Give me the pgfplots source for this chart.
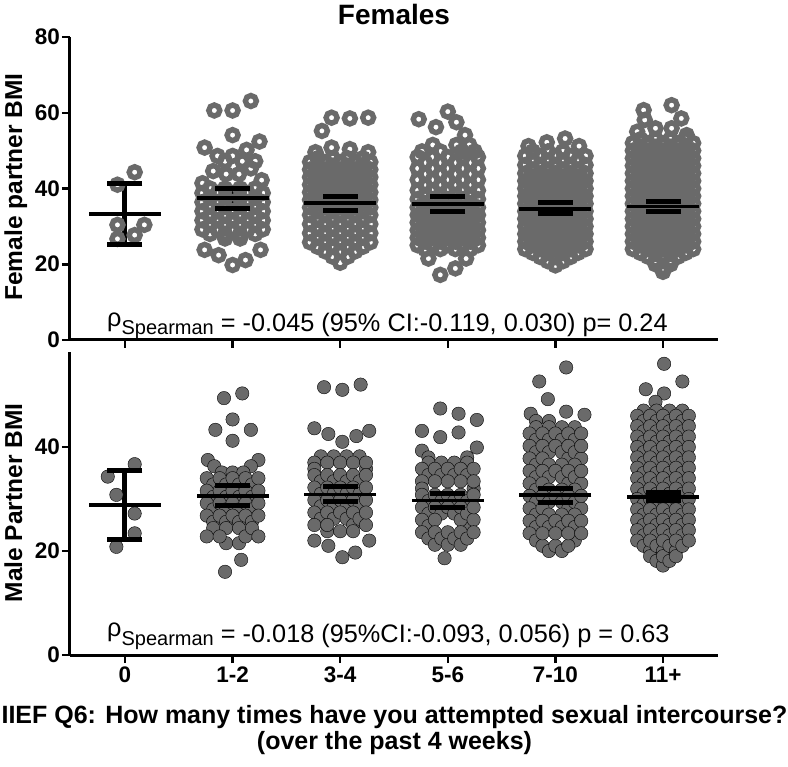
\documentclass[border=0pt]{standalone}
\usepackage{pgfplots}
\pgfplotsset{compat=1.18}
\usepackage{pgfplotstable}
\usepackage{fontspec}
\setmainfont{Liberation Sans}
\setsansfont{Liberation Sans}
\definecolor{dotgray}{RGB}{106,106,106}

% Female partner BMI (rings): y, then up to five beeswarm x positions per row
\pgfplotstableread{
y a b c d e
44.3 0.09 nan nan nan nan
41.0 -0.07 nan nan nan nan
30.4 -0.07 0.18 nan nan nan
27.7 0.09 nan nan nan nan
26.7 -0.07 nan nan nan nan
63.1 1.17 nan nan nan nan
60.6 0.83 1.00 nan nan nan
54.1 1.00 nan nan nan nan
52.4 1.25 nan nan nan nan
50.8 0.74 nan nan nan nan
50.2 1.13 nan nan nan nan
48.6 0.86 1.00 nan nan nan
47.2 0.93 1.09 1.21 nan nan
45.3 1.17 nan nan nan nan
44.6 0.82 nan nan nan nan
43.8 0.94 1.06 nan nan nan
42.2 1.27 nan nan nan nan
41.4 0.72 nan nan nan nan
40.0 0.79 0.93 1.07 1.21 nan
38.8 0.72 0.86 1.00 1.14 1.28
37.6 0.79 0.93 1.07 1.21 nan
36.4 0.72 0.86 1.00 1.14 1.28
35.2 0.79 0.93 1.07 1.21 nan
34.0 0.72 0.86 1.00 1.14 1.28
32.8 0.79 0.93 1.07 1.21 nan
31.6 0.72 0.86 1.00 1.14 1.28
30.4 0.79 0.93 1.07 1.21 nan
29.2 0.72 0.86 1.00 1.14 1.28
28.0 0.79 0.93 1.07 1.21 nan
26.8 0.93 1.07 nan nan nan
23.8 0.74 1.26 nan nan nan
22.4 0.87 nan nan nan nan
21.1 1.12 nan nan nan nan
19.8 1.00 nan nan nan nan
58.7 1.92 2.26 nan nan nan
58.5 2.09 nan nan nan nan
55.2 1.83 nan nan nan nan
50.8 1.92 nan nan nan nan
50.4 2.09 nan nan nan nan
49.6 1.77 2.26 nan nan nan
48.0 1.79 1.93 2.07 2.21 nan
47.0 1.72 1.86 2.00 2.14 2.28
46.0 1.79 1.93 2.07 2.21 nan
45.0 1.72 1.86 2.00 2.14 2.28
44.0 1.79 1.93 2.07 2.21 nan
43.0 1.72 1.86 2.00 2.14 2.28
42.0 1.79 1.93 2.07 2.21 nan
41.0 1.72 1.86 2.00 2.14 2.28
40.0 1.79 1.93 2.07 2.21 nan
39.0 1.72 1.86 2.00 2.14 2.28
38.0 1.79 1.93 2.07 2.21 nan
37.0 1.72 1.86 2.00 2.14 2.28
36.0 1.79 1.93 2.07 2.21 nan
35.0 1.72 1.86 2.00 2.14 2.28
34.0 1.79 1.93 2.07 2.21 nan
33.0 1.72 1.86 2.00 2.14 2.28
31.8 1.79 1.93 2.07 2.21 nan
30.6 1.72 1.86 2.00 2.14 2.28
29.4 1.79 1.93 2.07 2.21 nan
28.2 1.72 1.86 2.00 2.14 2.28
27.0 1.79 1.93 2.07 2.21 nan
25.8 1.72 1.86 2.00 2.14 2.28
24.6 1.79 1.93 2.07 2.21 nan
23.4 1.86 2.00 2.14 nan nan
22.0 1.93 2.07 nan nan nan
20.4 2.00 nan nan nan nan
60.3 3.00 nan nan nan nan
58.3 2.73 nan nan nan nan
57.5 3.08 nan nan nan nan
56.2 2.89 nan nan nan nan
54.1 3.16 nan nan nan nan
51.5 2.86 3.08 3.20 nan nan
49.8 2.76 2.93 3.13 3.25 nan
48.3 2.72 2.86 3.00 3.14 3.28
46.8 2.79 2.93 3.07 3.21 nan
45.3 2.72 2.86 3.00 3.14 3.28
43.8 2.79 2.93 3.07 3.21 nan
42.3 2.72 2.86 3.00 3.14 3.28
40.8 2.79 2.93 3.07 3.21 nan
39.5 2.72 2.86 3.00 3.14 3.28
38.3 2.79 2.93 3.07 3.21 nan
37.2 2.72 2.86 3.00 3.14 3.28
36.1 2.79 2.93 3.07 3.21 nan
35.0 2.72 2.86 3.00 3.14 3.28
34.0 2.79 2.93 3.07 3.21 nan
33.0 2.72 2.86 3.00 3.14 3.28
32.0 2.79 2.93 3.07 3.21 nan
31.0 2.72 2.86 3.00 3.14 3.28
30.0 2.79 2.93 3.07 3.21 nan
29.0 2.72 2.86 3.00 3.14 3.28
28.0 2.79 2.93 3.07 3.21 nan
27.0 2.72 2.86 3.00 3.14 3.28
26.0 2.79 2.93 3.07 3.21 nan
25.0 2.72 2.86 3.00 3.14 3.28
24.0 2.79 2.93 3.07 3.21 nan
21.5 2.82 3.17 nan nan nan
18.9 3.07 nan nan nan nan
17.2 2.93 nan nan nan nan
53.2 4.09 nan nan nan nan
52.2 3.92 nan nan nan nan
51.2 3.75 4.22 nan nan nan
49.8 3.79 3.93 4.07 nan nan
48.6 3.72 3.86 4.00 4.14 4.28
47.4 3.79 3.93 4.07 4.21 nan
46.2 3.72 3.86 4.00 4.14 4.28
45.0 3.79 3.93 4.07 4.21 nan
44.0 3.72 3.86 4.00 4.14 4.28
43.0 3.79 3.93 4.07 4.21 nan
42.0 3.72 3.86 4.00 4.14 4.28
41.0 3.79 3.93 4.07 4.21 nan
40.0 3.72 3.86 4.00 4.14 4.28
39.0 3.79 3.93 4.07 4.21 nan
38.0 3.72 3.86 4.00 4.14 4.28
37.0 3.79 3.93 4.07 4.21 nan
36.0 3.72 3.86 4.00 4.14 4.28
35.0 3.79 3.93 4.07 4.21 nan
34.0 3.72 3.86 4.00 4.14 4.28
33.0 3.79 3.93 4.07 4.21 nan
32.0 3.72 3.86 4.00 4.14 4.28
31.0 3.79 3.93 4.07 4.21 nan
30.0 3.72 3.86 4.00 4.14 4.28
29.0 3.79 3.93 4.07 4.21 nan
28.0 3.72 3.86 4.00 4.14 4.28
27.0 3.79 3.93 4.07 4.21 nan
26.0 3.72 3.86 4.00 4.14 4.28
25.0 3.79 3.93 4.07 4.21 nan
24.0 3.72 3.86 4.00 4.14 4.28
23.0 3.79 3.93 4.07 4.21 nan
21.9 3.86 4.00 4.14 nan nan
20.8 3.93 4.07 nan nan nan
19.7 4.00 nan nan nan nan
62.0 5.08 nan nan nan nan
60.7 4.82 nan nan nan nan
58.5 5.17 nan nan nan nan
58.1 4.83 nan nan nan nan
55.9 4.93 5.08 nan nan nan
55.0 4.76 nan nan nan nan
54.1 5.22 nan nan nan nan
53.0 4.79 4.93 5.07 5.21 nan
52.0 4.72 4.86 5.00 5.14 5.28
51.0 4.79 4.93 5.07 5.21 nan
50.0 4.72 4.86 5.00 5.14 5.28
49.0 4.79 4.93 5.07 5.21 nan
48.0 4.72 4.86 5.00 5.14 5.28
47.0 4.79 4.93 5.07 5.21 nan
46.0 4.72 4.86 5.00 5.14 5.28
45.0 4.79 4.93 5.07 5.21 nan
44.0 4.72 4.86 5.00 5.14 5.28
43.0 4.79 4.93 5.07 5.21 nan
42.0 4.72 4.86 5.00 5.14 5.28
41.0 4.79 4.93 5.07 5.21 nan
40.0 4.72 4.86 5.00 5.14 5.28
39.0 4.79 4.93 5.07 5.21 nan
38.0 4.72 4.86 5.00 5.14 5.28
37.0 4.79 4.93 5.07 5.21 nan
36.0 4.72 4.86 5.00 5.14 5.28
35.0 4.79 4.93 5.07 5.21 nan
34.0 4.72 4.86 5.00 5.14 5.28
33.0 4.79 4.93 5.07 5.21 nan
32.0 4.72 4.86 5.00 5.14 5.28
31.0 4.79 4.93 5.07 5.21 nan
30.0 4.72 4.86 5.00 5.14 5.28
29.0 4.79 4.93 5.07 5.21 nan
28.0 4.72 4.86 5.00 5.14 5.28
27.0 4.79 4.93 5.07 5.21 nan
26.0 4.72 4.86 5.00 5.14 5.28
25.0 4.79 4.93 5.07 5.21 nan
24.0 4.72 4.86 5.00 5.14 5.28
23.0 4.79 4.93 5.07 5.21 nan
22.0 4.86 5.00 5.14 nan nan
21.0 4.93 5.07 nan nan nan
20.0 4.93 5.07 nan nan nan
19.0 5.00 nan nan nan nan
18.0 5.00 nan nan nan nan
}\topdata

% Male partner BMI (filled dots)
\pgfplotstableread{
y a b c d e
36.7 0.09 nan nan nan nan
34.3 -0.16 nan nan nan nan
30.8 -0.08 nan nan nan nan
27.2 0.09 nan nan nan nan
23.4 0.09 nan nan nan nan
20.8 -0.08 nan nan nan nan
50.3 1.09 nan nan nan nan
49.4 0.92 nan nan nan nan
45.3 1.00 nan nan nan nan
43.3 0.84 1.17 nan nan nan
41.2 1.00 nan nan nan nan
37.5 0.77 1.24 nan nan nan
36.3 0.83 1.17 nan nan nan
35.1 0.90 1.00 1.10 nan nan
34.0 0.76 0.88 1.00 1.12 1.24
32.8 0.82 0.94 1.06 1.18 nan
31.6 0.76 0.88 1.00 1.12 1.24
30.4 0.82 0.94 1.06 1.18 nan
29.2 0.76 0.88 1.00 1.12 1.24
28.0 0.82 0.94 1.06 1.18 nan
26.8 0.76 0.88 1.00 1.12 1.24
25.6 0.82 0.94 1.06 1.18 nan
24.4 0.82 0.94 1.06 1.18 nan
22.8 0.76 0.88 1.12 1.24 nan
21.5 0.94 1.06 nan nan nan
18.3 1.08 nan nan nan nan
16.0 0.93 nan nan nan nan
52.0 2.19 nan nan nan nan
51.5 1.85 nan nan nan nan
51.0 2.02 nan nan nan nan
43.6 1.76 nan nan nan nan
43.1 2.27 nan nan nan nan
42.5 1.89 nan nan nan nan
42.1 2.15 nan nan nan nan
41.0 2.02 nan nan nan nan
38.2 1.82 1.94 2.06 2.18 nan
37.0 1.76 1.88 2.00 2.12 2.24
35.8 1.76 2.24 nan nan nan
34.6 1.76 1.88 2.00 2.12 2.24
33.4 1.82 1.94 2.06 2.18 nan
32.2 1.76 1.88 2.00 2.12 2.24
31.0 1.82 1.94 2.06 2.18 nan
29.8 1.76 1.88 2.00 2.12 2.24
28.6 1.82 1.94 2.06 2.18 nan
27.4 1.76 1.88 2.00 2.12 2.24
26.2 1.82 1.94 2.06 2.18 nan
25.0 1.76 1.88 2.12 2.24 nan
23.8 1.88 2.00 2.12 nan nan
22.0 1.76 2.27 nan nan nan
21.0 1.89 nan nan nan nan
19.7 2.14 nan nan nan nan
18.8 2.02 nan nan nan nan
47.4 2.93 nan nan nan nan
46.4 3.10 nan nan nan nan
45.2 3.27 nan nan nan nan
43.1 2.76 nan nan nan nan
42.8 3.10 nan nan nan nan
41.9 2.93 nan nan nan nan
39.9 3.27 nan nan nan nan
39.3 2.76 nan nan nan nan
38.0 2.82 3.18 nan nan nan
37.0 2.82 2.94 3.06 3.18 nan
35.8 2.76 2.88 3.00 3.12 3.24
34.6 2.82 2.94 3.06 3.18 nan
33.4 2.76 2.88 3.00 3.12 3.24
32.0 2.76 3.24 nan nan nan
30.8 2.76 2.88 3.00 3.12 3.24
29.6 2.82 2.94 3.06 3.18 nan
28.4 2.76 2.88 3.00 3.12 3.24
27.2 2.82 2.94 3.06 3.18 nan
26.0 2.76 2.88 3.12 3.24 nan
24.8 2.82 3.18 nan nan nan
23.6 2.76 2.88 3.00 3.12 3.24
22.4 2.82 2.94 3.06 3.18 nan
21.2 2.88 3.00 3.12 nan nan
18.6 2.97 nan nan nan nan
55.3 4.10 nan nan nan nan
52.6 3.85 nan nan nan nan
49.2 3.93 nan nan nan nan
46.8 4.10 nan nan nan nan
46.4 3.77 nan nan nan nan
46.2 4.27 nan nan nan nan
45.0 3.82 3.94 nan nan nan
43.8 3.82 3.94 4.06 4.18 nan
42.6 3.76 3.88 4.00 4.12 4.24
41.4 3.82 3.94 4.06 4.18 nan
40.2 3.76 3.88 4.00 4.12 4.24
39.0 3.82 3.94 4.06 4.18 nan
37.8 3.76 3.88 4.12 4.24 nan
36.6 3.82 3.94 4.06 4.18 nan
35.4 3.76 3.88 4.00 4.12 4.24
34.2 3.82 3.94 4.06 4.18 nan
33.0 3.76 3.88 4.12 4.24 nan
31.8 3.82 3.94 4.06 4.18 nan
30.6 3.76 3.88 4.00 4.12 4.24
29.4 3.82 3.94 4.06 4.18 nan
28.2 3.76 3.88 4.12 4.24 nan
27.0 3.82 3.94 4.06 4.18 nan
25.8 3.76 3.88 4.00 4.12 4.24
24.6 3.82 3.94 4.06 4.18 nan
23.4 3.76 3.88 4.00 4.12 4.24
22.0 3.82 4.18 nan nan nan
21.0 3.88 4.00 4.12 nan nan
20.0 3.94 4.06 nan nan nan
56.0 5.01 nan nan nan nan
52.6 5.18 nan nan nan nan
51.1 4.84 nan nan nan nan
50.3 5.01 nan nan nan nan
48.7 4.93 nan nan nan nan
47.0 4.82 4.94 5.06 5.18 nan
46.0 4.76 4.88 5.00 5.12 5.24
45.0 4.82 4.94 5.06 5.18 nan
44.0 4.76 4.88 5.00 5.12 5.24
43.0 4.82 4.94 5.06 5.18 nan
42.0 4.76 4.88 5.00 5.12 5.24
41.0 4.82 4.94 5.06 5.18 nan
40.0 4.76 4.88 5.00 5.12 5.24
39.0 4.82 4.94 5.06 5.18 nan
38.0 4.76 4.88 5.00 5.12 5.24
37.0 4.82 4.94 5.06 5.18 nan
36.0 4.76 4.88 5.00 5.12 5.24
35.0 4.82 4.94 5.06 5.18 nan
34.0 4.76 4.88 5.00 5.12 5.24
33.0 4.82 4.94 5.06 5.18 nan
32.0 4.76 4.88 5.00 5.12 5.24
31.0 4.82 4.94 5.06 5.18 nan
30.0 4.76 4.88 5.00 5.12 5.24
29.0 4.82 4.94 5.06 5.18 nan
28.0 4.76 4.88 5.00 5.12 5.24
27.0 4.82 4.94 5.06 5.18 nan
26.0 4.76 4.88 5.00 5.12 5.24
25.0 4.82 4.94 5.06 5.18 nan
24.0 4.76 4.88 5.00 5.12 5.24
23.0 4.82 4.94 5.06 5.18 nan
22.0 4.76 4.88 5.00 5.12 5.24
21.0 4.82 4.94 5.06 5.18 nan
20.0 4.88 5.00 5.12 nan nan
19.0 4.88 5.00 5.12 nan nan
18.1 4.94 5.06 nan nan nan
17.2 5.00 nan nan nan nan
}\botdata

\pgfplotsset{
  ring/.style={only marks, mark=o, mark size=5.5pt, mark options={draw=dotgray, line width=5.4pt}},
  dot/.style={only marks, mark=*, mark size=6.7pt, mark options={fill=dotgray, draw=none}},
  panel/.style={
    scale only axis, width=648pt, height=303pt,
    xmin=-0.511, xmax=5.511, ymin=0,
    axis lines*=left,
    axis line style={line width=3pt, black},
    xtick={0,1,2,3,4,5},
    tick align=outside, major tick length=8pt,
    tick style={line width=2.5pt, black},
    yticklabel style={font=\fontsize{22.5}{22.5}\selectfont\bfseries, inner sep=2pt},
    xticklabel style={font=\fontsize{22.5}{22.5}\selectfont\bfseries},
    /pgf/number format/assume math mode=true,
    clip=false,
  },
  cap/.style={only marks, mark=-, mark size=17.5pt, mark options={line width=5pt, black}},
  mean/.style={only marks, mark=-, mark size=36pt, mark options={line width=3.5pt, black}},
  vbar/.style={black, line width=5pt, mark=none},
}

\begin{document}
\begin{tikzpicture}[x=1pt,y=1pt]
\path[use as bounding box] (0,0) rectangle (788,-767);

\begin{axis}[panel, at={(70pt,-340pt)}, anchor=south west,
  ymax=80, ytick={0,20,40,60,80}, xticklabels={}]
  \foreach \c in {a,b,c,d,e}{
    \addplot[ring] table[x=\c, y=y]{\topdata};
  }
  \addplot[vbar] coordinates {(0,25.3) (0,41.4)};
  \addplot[vbar] coordinates {(1,34.8) (1,39.9)};
  \addplot[vbar] coordinates {(2,34.1) (2,38.0)};
  \addplot[vbar] coordinates {(3,33.9) (3,37.8)};
  \addplot[vbar] coordinates {(4,33.5) (4,36.2)};
  \addplot[vbar] coordinates {(5,33.9) (5,36.5)};
  \addplot[cap] coordinates {(0,41.4) (0,25.3) (1,39.9) (1,34.8) (2,38.0) (2,34.1) (3,37.8) (3,33.9) (4,36.2) (4,33.5) (5,36.5) (5,33.9)};
  \addplot[mean] coordinates {(0,33.3) (1,37.5) (2,36.2) (3,35.9) (4,34.6) (5,35.2)};
\end{axis}

\begin{axis}[panel, at={(70pt,-655pt)}, anchor=south west,
  ymax=58.27, ytick={0,20,40},
  xticklabels={0,1-2,3-4,5-6,7-10,11+}]
  \foreach \c in {a,b,c,d,e}{
    \addplot[dot] table[x=\c, y=y]{\botdata};
  }
  \addplot[vbar] coordinates {(0,22.3) (0,35.4)};
  \addplot[vbar] coordinates {(1,28.7) (1,32.6)};
  \addplot[vbar] coordinates {(2,29.5) (2,32.4)};
  \addplot[vbar] coordinates {(3,28.3) (3,31.1)};
  \addplot[vbar] coordinates {(4,29.4) (4,32.1)};
  \addplot[vbar] coordinates {(5,29.7) (5,31.2)};
  \addplot[cap] coordinates {(0,35.4) (0,22.3) (1,32.6) (1,28.7) (2,32.4) (2,29.5) (3,31.1) (3,28.3) (4,32.1) (4,29.4) (5,31.2) (5,29.7)};
  \addplot[mean] coordinates {(0,28.8) (1,30.6) (2,30.9) (3,29.7) (4,30.8) (5,30.4)};
\end{axis}

\node[anchor=base, inner sep=0pt, font=\fontsize{28}{28}\selectfont\bfseries] at (394pt,-25pt) {Females};
\node[rotate=90, anchor=base, inner sep=0pt, font=\fontsize{24.5}{24.5}\selectfont\bfseries] at (22pt,-187pt) {Female partner BMI};
\node[rotate=90, anchor=base, inner sep=0pt, font=\fontsize{24.5}{24.5}\selectfont\bfseries] at (22pt,-503pt) {Male Partner BMI};
\node[anchor=base west, inner sep=0pt, font=\fontsize{25.3}{25.3}\selectfont] at (107pt,-332pt)
  {\raisebox{5.5pt}{ρ}\raisebox{-3pt}{\fontsize{20}{20}\selectfont Spearman} = -0.045 (95\% CI:-0.119, 0.030) p= 0.24};
\node[anchor=base west, inner sep=0pt, font=\fontsize{25.3}{25.3}\selectfont] at (107pt,-642pt)
  {\raisebox{5.5pt}{ρ}\raisebox{-3pt}{\fontsize{20}{20}\selectfont Spearman} = -0.018 (95\%CI:-0.093, 0.056) p = 0.63};
\node[anchor=base, inner sep=0pt, font=\fontsize{25}{25}\selectfont\bfseries] at (394.5pt,-723pt) {IIEF Q6: How many times have you attempted sexual intercourse?};
\node[anchor=base, inner sep=0pt, font=\fontsize{25}{25}\selectfont\bfseries] at (394.5pt,-749pt) {(over the past 4 weeks)};
\end{tikzpicture}
\end{document}
